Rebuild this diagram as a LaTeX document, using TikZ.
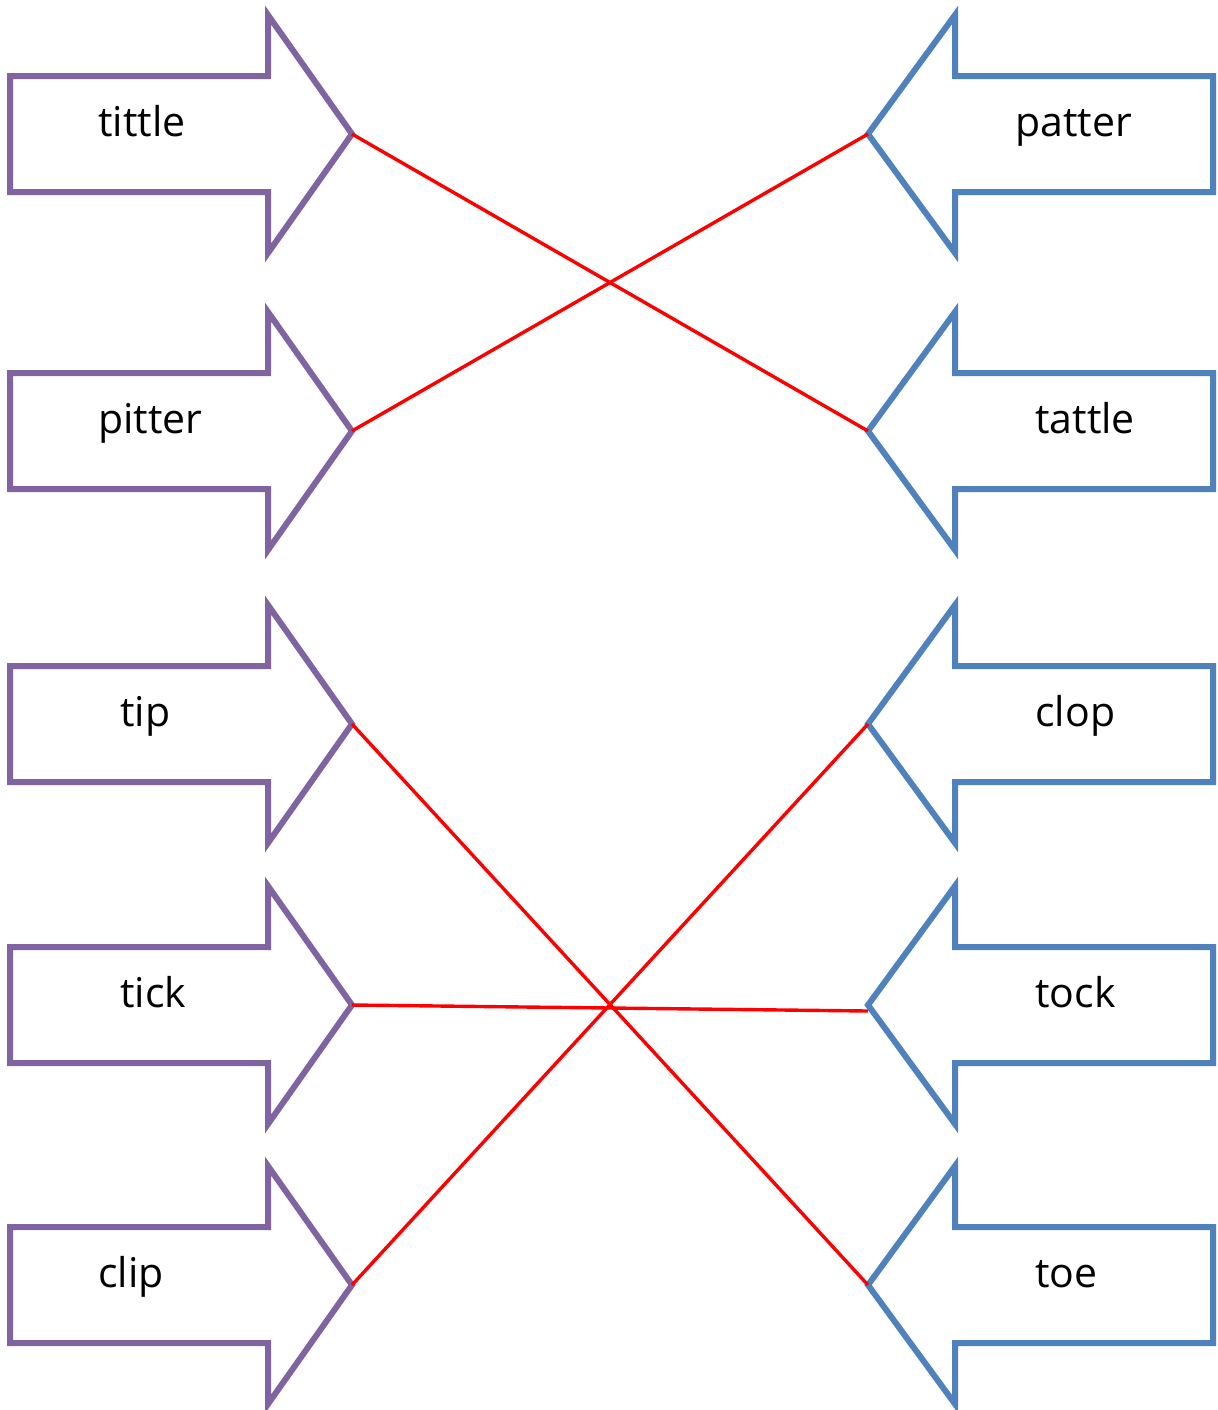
\documentclass[tikz,border=0pt]{standalone}
\usepackage{fontspec}
\setmainfont{Open Sans}
\definecolor{leftblock}{HTML}{8064A2}
\definecolor{rightblock}{HTML}{4F81BD}

\tikzset{
  leftarrow/.style={draw=leftblock,line width=3pt},
  rightarrow/.style={draw=rightblock,line width=3pt},
  wordlabel/.style={inner sep=0pt,anchor=base west,font=\fontsize{20.5}{24}\selectfont},
  link/.style={draw=red,line width=1.7pt}
}

\begin{document}
\begin{tikzpicture}[x=0.5pt,y=-0.5pt]
  \useasboundingbox (0,0) rectangle (1218,1410);%for adjustment

  % left column, pointing right
  \foreach \n/\y/\word/\tx in {1/134/tittle/98,2/431/pitter/98,3/724/tip/120,4/1005/tick/120,5/1285/clip/98}{
    \draw[leftarrow] (10,\y-58) -- (268,\y-58) -- (268,\y-119) -- (352,\y)
      -- (268,\y+119) -- (268,\y+58) -- (10,\y+58) -- cycle;
    \coordinate (l\n) at (352,\y);
    \node[wordlabel] (lw\n) at (\tx,\y+2) {\word};
  }

  % right column, pointing left
  \foreach \n/\y/\word/\tx in {1/134/patter/1015,2/431/tattle/1035,3/724/clop/1035,4/1005/tock/1035,5/1285/toe/1035}{
    \draw[rightarrow] (1213,\y-58) -- (955,\y-58) -- (955,\y-119) -- (868,\y)
      -- (955,\y+119) -- (955,\y+58) -- (1213,\y+58) -- cycle;
    \coordinate (r\n) at (868,\y);
    \node[wordlabel] (rw\n) at (\tx,\y+2) {\word};
  }

  \draw[link] (l1) -- (r2);
  \draw[link] (l2) -- (r1);
  \draw[link] (l3) -- (r5);
  \draw[link] (l4) -- ([yshift=-3pt]r4);
  \draw[link] (l5) -- (r3);
\end{tikzpicture}
\end{document}
